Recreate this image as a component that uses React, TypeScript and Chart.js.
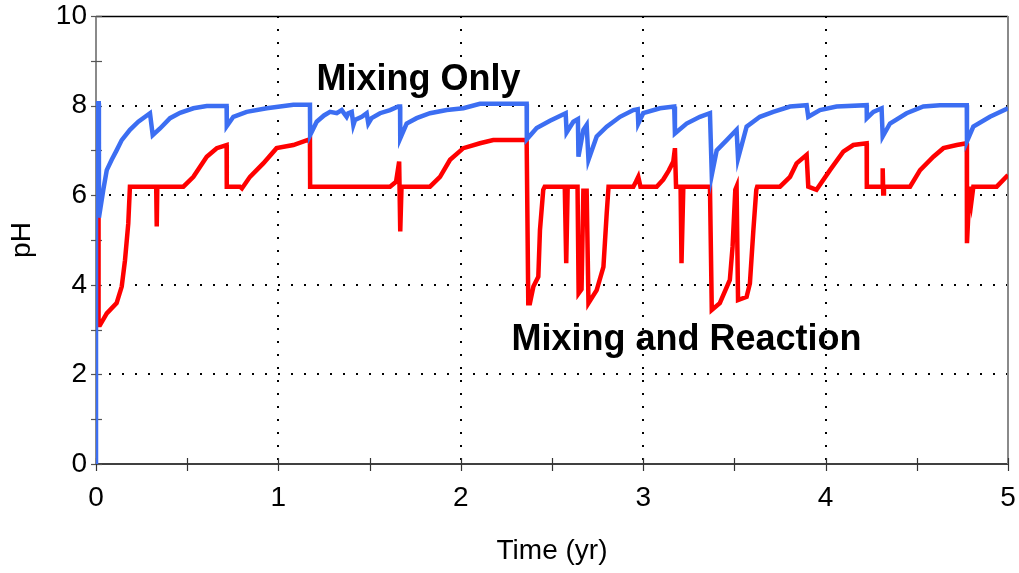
import React, { useEffect, useRef } from "react";
import { Chart, registerables } from "chart.js";

Chart.register(...registerables);

// ---- Data ----
const seriesNames = ["Mixing Only", "Mixing and Reaction"];

const blueT = [
  0, 0, 0.015, 0.016, 0.04, 0.059, 0.086, 0.113, 0.141, 0.186, 0.232, 0.296, 0.311, 0.351, 0.406, 0.461,
  0.534, 0.607, 0.716, 0.717, 0.753, 0.826, 0.936, 1.082, 1.173, 1.174, 1.21, 1.25, 1.283, 1.32, 1.347,
  1.374, 1.383, 1.402, 1.411, 1.42, 1.457, 1.484, 1.493, 1.511, 1.557, 1.612, 1.657, 1.667, 1.668, 1.703,
  1.758, 1.831, 1.923, 2.014, 2.105, 2.361, 2.362, 2.416, 2.489, 2.575, 2.58, 2.617, 2.642, 2.645, 2.672,
  2.69, 2.7, 2.745, 2.8, 2.873, 2.946, 2.97, 2.973, 3.0, 3.092, 3.17, 3.174, 3.238, 3.311, 3.366, 3.376,
  3.403, 3.458, 3.512, 3.52, 3.567, 3.64, 3.713, 3.805, 3.896, 3.905, 3.969, 4.06, 4.225, 4.226, 4.262,
  4.307, 4.313, 4.353, 4.444, 4.536, 4.627, 4.774, 4.775, 4.81, 4.901, 5.0,
];
const bluePH = [
  0, 8.05, 8.05, 5.5, 6.12, 6.56, 6.79, 7.0, 7.23, 7.46, 7.64, 7.83, 7.34, 7.49, 7.72, 7.84,
  7.94, 7.99, 7.99, 7.54, 7.75, 7.86, 7.94, 8.02, 8.02, 7.34, 7.64, 7.78, 7.86, 7.83, 7.9,
  7.75, 7.83, 7.86, 7.57, 7.68, 7.75, 7.83, 7.6, 7.72, 7.83, 7.9, 7.98, 7.98, 7.27, 7.6,
  7.72, 7.83, 7.9, 7.94, 8.04, 8.04, 7.25, 7.5, 7.66, 7.83, 7.4, 7.64, 7.7, 6.86, 7.46,
  7.57, 6.79, 7.31, 7.53, 7.75, 7.9, 7.92, 7.6, 7.83, 7.94, 7.98, 7.38, 7.6, 7.75, 7.83, 6.45,
  7.0, 7.23, 7.46, 6.82, 7.53, 7.75, 7.86, 7.98, 8.01, 7.75, 7.9, 7.98, 8.01, 7.72, 7.86,
  7.94, 7.31, 7.6, 7.83, 7.98, 8.01, 8.01, 7.2, 7.53, 7.75, 7.94,
];

const redT = [
  0, 0.003, 0.012, 0.014, 0.022, 0.059, 0.113, 0.141, 0.159, 0.177, 0.186, 0.33, 0.333, 0.336, 0.479,
  0.534, 0.607, 0.662, 0.716, 0.717, 0.789, 0.8, 0.844, 0.917, 0.99, 1.082, 1.173, 1.174, 1.612, 1.645,
  1.662, 1.668, 1.675, 1.831, 1.886, 1.941, 2.014, 2.105, 2.178, 2.361, 2.37, 2.379, 2.398, 2.425, 2.434,
  2.452, 2.46, 2.57, 2.578, 2.586, 2.64, 2.646, 2.662, 2.672, 2.69, 2.7, 2.745, 2.782, 2.8, 2.81, 2.946,
  2.96, 2.973, 2.985, 3.074, 3.11, 3.14, 3.165, 3.174, 3.18, 3.205, 3.21, 3.22, 3.366, 3.376, 3.42, 3.475,
  3.49, 3.505, 3.512, 3.52, 3.567, 3.585, 3.604, 3.62, 3.625, 3.75, 3.805, 3.841, 3.896, 3.905, 3.95,
  4.024, 4.097, 4.152, 4.225, 4.226, 4.31, 4.313, 4.316, 4.32, 4.463, 4.518, 4.591, 4.646, 4.719, 4.774,
  4.775, 4.79, 4.8, 4.81, 4.938, 5.0,
];
const redPH = [
  7.95, 7.27, 7.27, 3.1, 3.1, 3.36, 3.59, 3.96, 4.55, 5.37, 6.19, 6.19, 5.3, 6.19, 6.19,
  6.41, 6.86, 7.05, 7.12, 6.19, 6.19, 6.15, 6.41, 6.71, 7.05, 7.12, 7.25, 6.19, 6.19, 6.3,
  6.75, 5.19, 6.19, 6.19, 6.41, 6.79, 7.05, 7.16, 7.23, 7.23, 3.59, 3.59, 3.96, 4.18, 5.22,
  6.12, 6.19, 6.19, 4.48, 6.19, 6.19, 3.81, 3.9, 6.1, 6.1, 3.59, 3.88, 4.4, 5.6, 6.19, 6.19,
  6.3, 6.41, 6.19, 6.19, 6.35, 6.55, 6.75, 7.05, 6.19, 6.19, 4.48, 6.19, 6.19, 3.44, 3.59, 4.11,
  4.85, 6.12, 6.19, 3.66, 3.73, 4.03, 5.22, 6.12, 6.19, 6.19, 6.41, 6.71, 6.9, 6.19, 6.12,
  6.56, 6.97, 7.12, 7.16, 6.19, 6.19, 6.6, 6.04, 6.19, 6.19, 6.56, 6.86, 7.05, 7.12, 7.16,
  4.93, 6.19, 5.87, 6.19, 6.19, 6.45,
];

const xTickMax = 5;
const yTickMax = 10;
const xGridValues = [1, 2, 3, 4];
const yGridValues = [2, 4, 6, 8];
const xTitle = "Time (yr)";
const yTitle = "pH";

// annotation label anchors in data units (t, pH of text baseline)
const labelTexts = ["Mixing Only", "Mixing and Reaction"];
const labelT = [1.768, 3.237];
const labelPH = [8.35, 2.54];

const BLUE = "#3c6ef2";
const RED = "#ff0000";
const FONT = "'Liberation Sans', Arial, sans-serif";

const framePlugin = {
  id: "frameTicks",
  beforeDatasetsDraw(chart: any) {
    const { ctx, chartArea: a, scales } = chart;
    const xs = scales.x;
    const ys = scales.y;
    ctx.save();
    ctx.lineWidth = 1.5;
    ctx.strokeStyle = "#000";
    ctx.beginPath();
    ctx.moveTo(a.left, a.top + 0.5);
    ctx.lineTo(a.right, a.top + 0.5);
    ctx.stroke();
    ctx.beginPath();
    ctx.moveTo(a.left, a.bottom);
    ctx.lineTo(a.right, a.bottom);
    ctx.stroke();
    ctx.strokeStyle = "#8a8a8a";
    ctx.lineWidth = 2;
    ctx.beginPath();
    ctx.moveTo(a.left, a.top);
    ctx.lineTo(a.left, a.bottom);
    ctx.stroke();
    ctx.beginPath();
    ctx.moveTo(a.right, a.top);
    ctx.lineTo(a.right, a.bottom);
    ctx.stroke();
    ctx.lineWidth = 1.2;
    ctx.strokeStyle = "#555";
    for (let v = 0; v <= yTickMax; v += 1) {
      const y = Math.round(ys.getPixelForValue(v)) + 0.5;
      ctx.beginPath();
      ctx.moveTo(a.left - 5, y);
      ctx.lineTo(a.left + 6, y);
      ctx.stroke();
    }
    ctx.strokeStyle = "#333";
    for (let v = 0; v <= xTickMax; v += 0.5) {
      const x = Math.round(xs.getPixelForValue(v)) + 0.5;
      ctx.beginPath();
      ctx.moveTo(x, a.bottom - 6);
      ctx.lineTo(x, a.bottom + 7);
      ctx.stroke();
    }
    ctx.restore();
  },
  afterDraw(chart: any) {
    const { ctx, scales } = chart;
    ctx.save();
    ctx.fillStyle = "#000";
    ctx.font = `bold 36px ${FONT}`;
    ctx.textAlign = "center";
    ctx.textBaseline = "alphabetic";
    labelTexts.forEach((txt, i) => {
      ctx.fillText(txt, scales.x.getPixelForValue(labelT[i]), scales.y.getPixelForValue(labelPH[i]));
    });
    ctx.restore();
  },
};

export default function App() {
  const ref = useRef<HTMLCanvasElement | null>(null);
  useEffect(() => {
    if (!ref.current) return;
    const chart = new Chart(ref.current, {
      type: "line",
      data: {
        datasets: [
          {
            label: seriesNames[0],
            data: blueT.map((t, i) => ({ x: t, y: bluePH[i] })),
            borderColor: BLUE,
            backgroundColor: BLUE,
            borderWidth: 4.5,
            pointRadius: 0,
            tension: 0,
          },
          {
            label: seriesNames[1],
            data: redT.map((t, i) => ({ x: t, y: redPH[i] })),
            borderColor: RED,
            backgroundColor: RED,
            borderWidth: 4.5,
            pointRadius: 0,
            tension: 0,
          },
        ],
      },
      options: {
        responsive: false,
        animation: false,
        layout: { padding: { left: 0, right: 11, top: 16, bottom: 0 } },
        plugins: { legend: { display: false }, tooltip: { enabled: false } },
        scales: {
          x: {
            type: "linear",
            min: 0,
            max: xTickMax,
            border: { display: false, dash: [2, 11] },
            grid: {
              drawTicks: false,
              lineWidth: 2,
              color: (c: any) =>
                c.tick && xGridValues.includes(c.tick.value) ? "#000" : "rgba(0,0,0,0)",
            },
            ticks: {
              stepSize: 0.5,
              padding: 17,
              color: "#000",
              font: { family: FONT, size: 28 },
              maxRotation: 0,
              autoSkip: false,
              callback: (v: any) => (Number.isInteger(v) ? String(v) : ""),
            },
            title: {
              display: true,
              text: xTitle,
              color: "#000",
              font: { family: FONT, size: 28 },
              padding: { top: 0, bottom: 5 },
            },
            afterFit: (s: any) => {
              s.height = 109;
              s.paddingLeft = 0;
              s.paddingRight = 0;
            },
          },
          y: {
            type: "linear",
            min: 0,
            max: yTickMax,
            border: { display: false, dash: [2, 11] },
            grid: {
              drawTicks: false,
              lineWidth: 2,
              color: (c: any) =>
                c.tick && yGridValues.includes(c.tick.value) ? "#000" : "rgba(0,0,0,0)",
            },
            ticks: {
              stepSize: 1,
              padding: 9,
              color: "#000",
              font: { family: FONT, size: 28 },
              autoSkip: false,
              callback: (v: any) => (v % 2 === 0 ? String(v) : ""),
            },
            title: {
              display: true,
              text: yTitle,
              color: "#000",
              font: { family: FONT, size: 28 },
              padding: { top: 5, bottom: 0 },
            },
            afterFit: (s: any) => {
              s.width = 96;
              s.paddingTop = 0;
              s.paddingBottom = 0;
            },
          },
        },
      },
      plugins: [framePlugin],
    });
    return () => chart.destroy();
  }, []);
  return (
    <div style={{ position: "absolute", left: 0, top: 0, width: 1019, height: 573, background: "#fff" }}>
      <canvas ref={ref} width={1019} height={573} />
    </div>
  );
}
